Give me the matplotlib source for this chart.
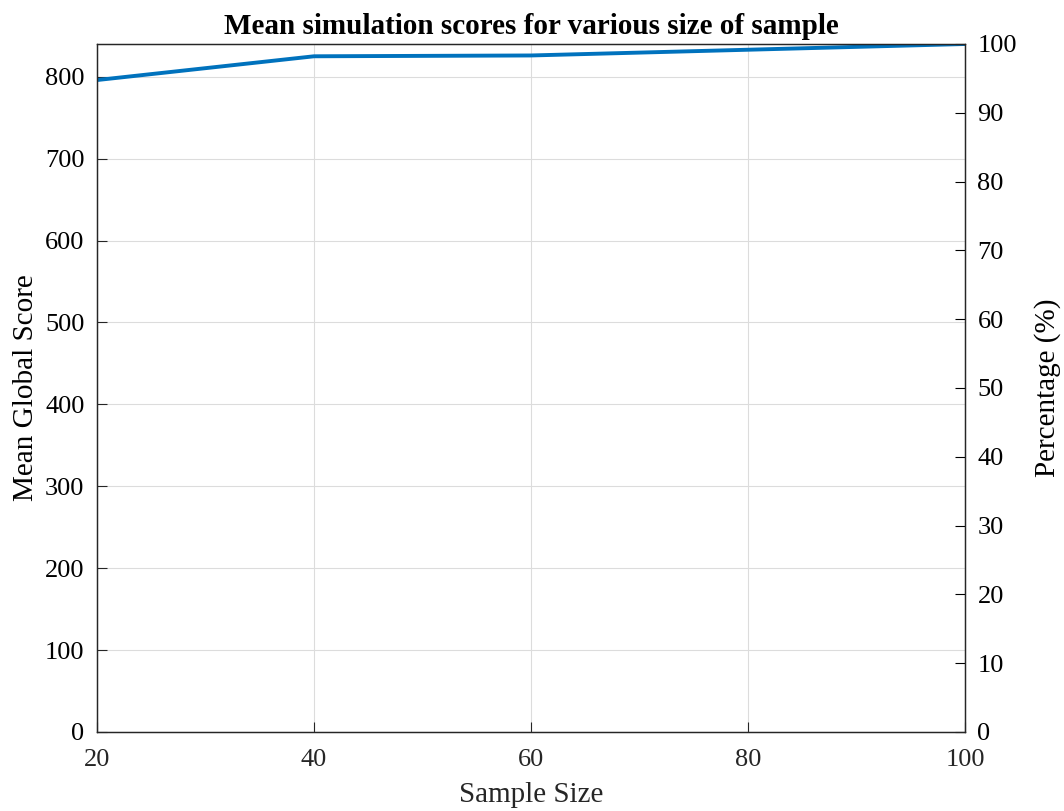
import matplotlib
matplotlib.use("Agg")
import matplotlib.pyplot as plt
import numpy as np

sample_sizes = [20, 40, 60, 80, 100]
mean_scores = [796, 825, 826, 833, 840]
pct_ticks = list(range(0, 101, 10))
score_ticks = list(range(0, 801, 100))

plt.rcParams['font.family'] = ['Liberation Serif', 'DejaVu Serif']
plt.rcParams['mathtext.fontset'] = 'stix'

fig = plt.figure(figsize=(10.64, 8.11), dpi=100)
ax = fig.add_axes([97/1064, 1-732/811, (965-97)/1064, (732-44)/811])
ax.plot(sample_sizes, mean_scores, color='#0072BD', lw=2.8, solid_capstyle='butt')
top = max(mean_scores)
ax.set_xlim(20, 100)
ax.set_ylim(0, top)
ax.set_xticks([20, 40, 60, 80, 100])
ax.set_yticks(score_ticks)
ax.grid(True, color='#dcdcdc', lw=0.8)
ax.set_axisbelow(True)
ax.tick_params(direction='in', length=7, width=0.8, labelsize=19, colors='#262626')
ax.tick_params(axis='y', right=False, labelcolor='black', pad=9)
ax.tick_params(axis='x', pad=12)
for s in ax.spines.values():
    s.set_color('#262626')
    s.set_linewidth(0.9)
ax.set_xlabel('Sample Size', fontsize=21, color='#262626', labelpad=8)
ax.set_ylabel('Mean Global Score', fontsize=21, color='black', labelpad=4)
ax.set_title('Mean simulation scores for various size of sample', fontsize=21, fontweight='bold', pad=7)

ax2 = ax.twinx()
ax2.set_ylim(0, 100)
ax2.set_yticks(pct_ticks)
ax2.tick_params(direction='in', length=7, width=0.8, labelsize=19, colors='black', pad=9)
ax2.set_ylabel('Percentage (%)', fontsize=21, color='black', labelpad=12)
for s in ax2.spines.values():
    s.set_color('#262626')
    s.set_linewidth(0.9)

fig.savefig('out.png', dpi=100)
